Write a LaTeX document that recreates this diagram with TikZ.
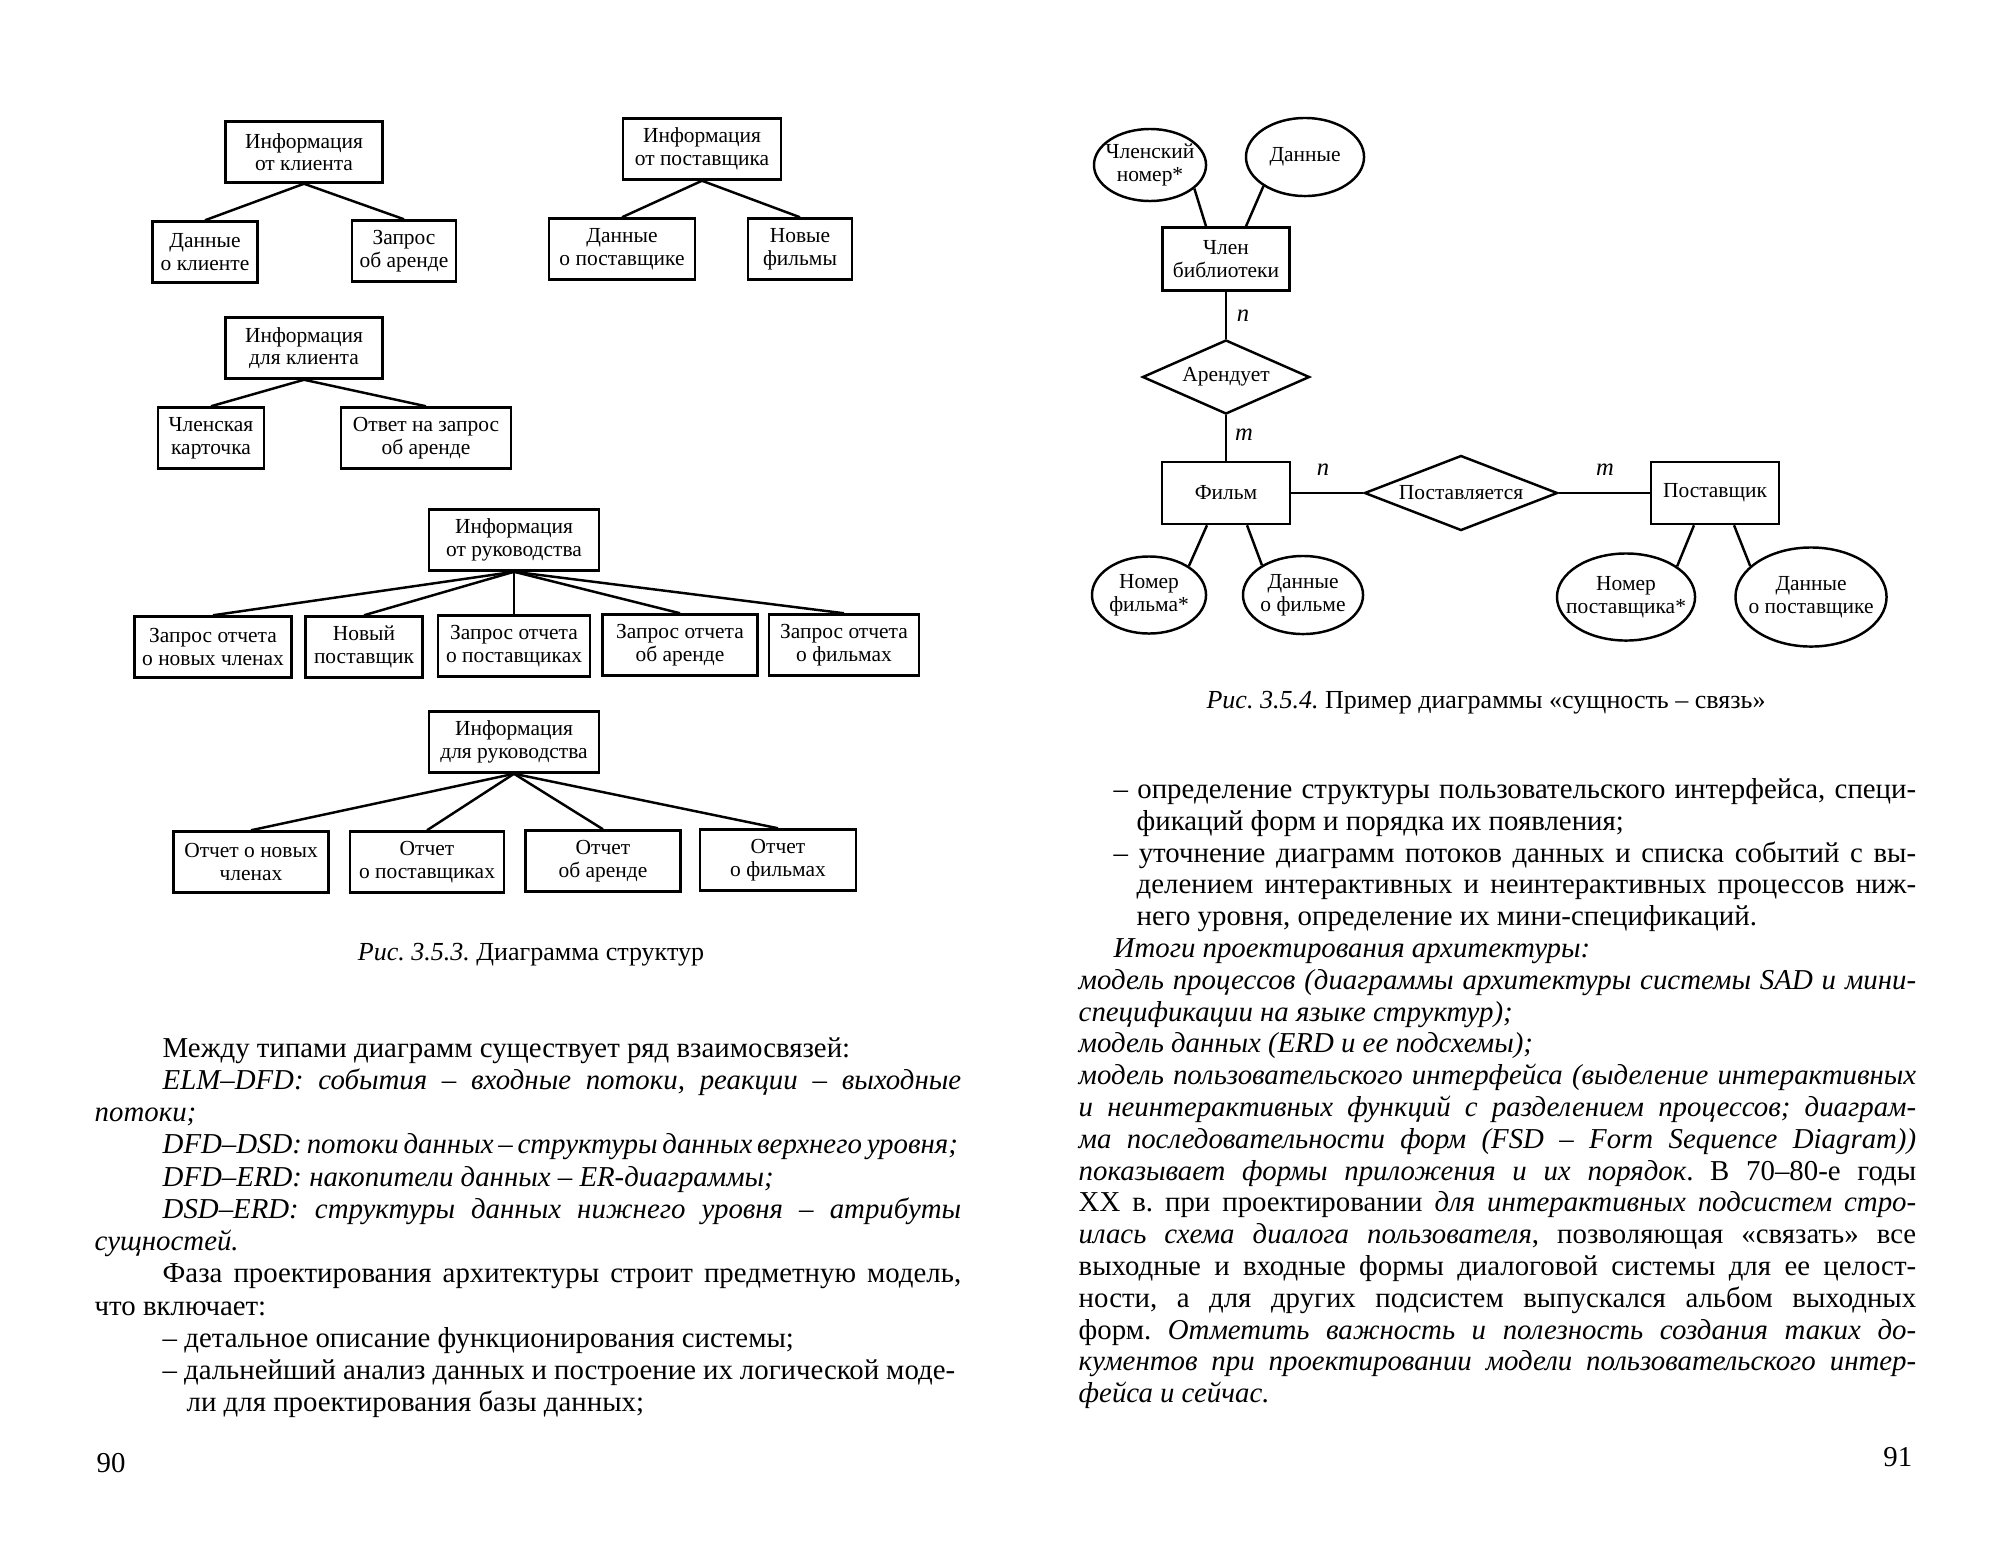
\documentclass[tikz,border=0pt]{standalone}
\usepackage{fontspec}
\setmainfont{Liberation Serif}
\usetikzlibrary{shapes.geometric}
\frenchspacing
\newcommand{\jl}[2]{\makebox[#1][s]{#2}}
\newcommand{\bodyfnt}{\fontsize{8.2}{9}\selectfont}
\newcommand{\lblfnt}{\fontsize{6.1}{6.4}\selectfont}

\begin{document}
\begin{tikzpicture}[x=0.01cm,y=-0.01cm,
  blk/.style={draw,line width=0.7pt,align=center,inner sep=1pt,minimum height=0.61cm,font=\lblfnt},
  attr/.style={draw,ellipse,line width=0.7pt,align=center,inner xsep=-0.2cm,inner ysep=0pt,font=\lblfnt},
  rel/.style={draw,diamond,line width=0.7pt,inner sep=0pt,shape aspect=2.6,font=\lblfnt},
  mult/.style={font=\fontsize{7}{7}\selectfont\itshape,inner sep=0pt},
  lnk/.style={line width=0.7pt},
  txt/.style={anchor=base west,inner sep=0pt,font=\bodyfnt},
  cpt/.style={font=\fontsize{7.4}{8}\selectfont,inner sep=0pt}]
\useasboundingbox[fill=white] (0,0) rectangle (2013,1548);

\node[blk,minimum width=1.57cm] (infC) at (304,152) {Информация\\от клиента};
\node[blk,minimum width=1.05cm] (datC) at (205,252) {Данные\\о клиенте};
\node[blk,minimum width=1.04cm] (reqR) at (404,251) {Запрос\\об аренде};
\draw[lnk] (infC.south) -- (datC.north);
\draw[lnk] (infC.south) -- (reqR.north);

\node[blk,minimum width=1.58cm] (infS) at (702,149) {Информация\\от поставщика};
\node[blk,minimum width=1.46cm] (datS) at (622,249) {Данные\\о поставщике};
\node[blk,minimum width=1.04cm] (newF) at (800,249) {Новые\\фильмы};
\draw[lnk] (infS.south) -- (datS.north);
\draw[lnk] (infS.south) -- (newF.north);

\node[blk,minimum width=1.57cm] (forC) at (304,348) {Информация\\для клиента};
\node[blk,minimum width=1.06cm] (card) at (211,438) {Членская\\карточка};
\node[blk,minimum width=1.70cm] (ans) at (426,438) {Ответ на запрос\\об аренде};
\draw[lnk] (forC.south) -- (card.north);
\draw[lnk] (forC.south) -- (ans.north);

\node[blk,minimum width=1.70cm] (fromM) at (514,540) {Информация\\от руководства};
\node[blk,minimum width=1.57cm] (rqN) at (213,647) {Запрос отчета\\о новых членах};
\node[blk,minimum width=1.17cm] (newS) at (364,647) {Новый\\поставщик};
\node[blk,minimum width=1.52cm] (rqS) at (514,646) {Запрос отчета\\о поставщиках};
\node[blk,minimum width=1.55cm] (rqR) at (680,645) {Запрос отчета\\об аренде};
\node[blk,minimum width=1.50cm] (rqF) at (844,645) {Запрос отчета\\о фильмах};
\draw[lnk] (fromM.south) -- (rqN.north);
\draw[lnk] (fromM.south) -- (newS.north);
\draw[lnk] (fromM.south) -- (rqS.north);
\draw[lnk] (fromM.south) -- (rqR.north);
\draw[lnk] (fromM.south) -- (rqF.north);

\node[blk,minimum width=1.70cm] (forM) at (514,742) {Информация\\для руководства};
\node[blk,minimum width=1.55cm] (rpN) at (251,862) {Отчет о новых\\членах};
\node[blk,minimum width=1.54cm] (rpS) at (427,862) {Отчет\\о поставщиках};
\node[blk,minimum width=1.55cm] (rpR) at (603,861) {Отчет\\об аренде};
\node[blk,minimum width=1.56cm] (rpF) at (778,860) {Отчет\\о фильмах};
\draw[lnk] (forM.south) -- (rpN.north);
\draw[lnk] (forM.south) -- (rpS.north);
\draw[lnk] (forM.south) -- (rpR.north);
\draw[lnk] (forM.south) -- (rpF.north);

\node[cpt] (cap1) at (531,955) {\textit{Рис. 3.5.3.} Диаграмма структур};

\node[attr,minimum width=1.12cm,minimum height=0.72cm] (memNo) at (1150,165) {Членский\\номер*};
\node[attr,minimum width=1.18cm,minimum height=0.78cm] (memData) at (1305,157) {Данные};
\node[blk,minimum width=1.27cm,minimum height=0.63cm] (member) at (1226,259) {Член\\библиотеки};
\draw[lnk] (memNo.-28) -- ([xshift=-0.2cm]member.north);
\draw[lnk] (memData.-145) -- ([xshift=0.2cm]member.north);
\node[rel,minimum width=1.67cm,minimum height=0.74cm] (rents) at (1226,377) {Арендует};
\node[blk,minimum width=1.28cm,minimum height=0.62cm] (film) at (1226,493) {Фильм};
\draw[lnk] (member) -- (rents);
\draw[lnk] (rents) -- (film);
\node[mult] (n1) at (1243,316) {n};
\node[mult] (m1) at (1244,435) {m};
\node[rel,minimum width=1.93cm,minimum height=0.75cm] (supply) at (1461,493) {Поставляется};
\node[blk,minimum width=1.28cm,minimum height=0.62cm] (supplier) at (1715,493) {Поставщик};
\draw[lnk] (film) -- (supply);
\draw[lnk] (supply) -- (supplier);
\node[mult] (n2) at (1323,470) {n};
\node[mult] (m2) at (1605,470) {m};
\node[attr,minimum width=1.14cm,minimum height=0.77cm] (filmNo) at (1149,595) {Номер\\фильма*};
\node[attr,minimum width=1.20cm,minimum height=0.78cm] (filmData) at (1303,595) {Данные\\о фильме};
\node[attr,minimum width=1.38cm,minimum height=0.87cm] (supNo) at (1626,597) {Номер\\поставщика*};
\node[attr,minimum width=1.51cm,minimum height=0.99cm] (supData) at (1811,597) {Данные\\о поставщике};
\draw[lnk] ([xshift=-0.19cm]film.south) -- (filmNo.36);
\draw[lnk] ([xshift=0.21cm]film.south) -- (filmData.144);
\draw[lnk] ([xshift=-0.21cm]supplier.south) -- (supNo.31);
\draw[lnk] ([xshift=0.19cm]supplier.south) -- (supData.153);

\node[cpt] (cap2) at (1486,703) {\textit{Рис. 3.5.4.} Пример диаграммы «сущность – связь»};

\node[txt] (l1) at (162,1057) {Между типами диаграмм существует ряд взаимосвязей:};
\node[txt] (l2) at (162,1089) {\itshape\jl{7.98cm}{ELM–DFD: события – входные потоки, реакции – выходные}};
\node[txt] (l3) at (94,1121) {\itshape потоки;};
\node[txt] (l4) at (162,1153) {\itshape\jl{7.92cm}{DFD–DSD: потоки данных – структуры данных верхнего уровня;}};
\node[txt] (l5) at (162,1186) {\itshape DFD–ERD: накопители данных – ER-диаграммы;};
\node[txt] (l6) at (162,1218) {\itshape\jl{7.98cm}{DSD–ERD: структуры данных нижнего уровня – атрибуты}};
\node[txt] (l7) at (94,1250) {\itshape сущностей.};
\node[txt] (l8) at (162,1282) {\jl{7.98cm}{Фаза проектирования архитектуры строит предметную модель,}};
\node[txt] (l9) at (94,1315) {что включает:};
\node[txt] (l10) at (162,1347) {– детальное описание функционирования системы;};
\node[txt] (l11) at (162,1379) {\jl{7.92cm}{– дальнейший анализ данных и построение их логической моде-}};
\node[txt] (l12) at (186,1411) {ли для проектирования базы данных;};
\node[txt] (pg90) at (96,1472) {90};

\node[txt] (r1) at (1113,798) {\jl{8.02cm}{– определение структуры пользовательского интерфейса, специ-}};
\node[txt] (r2) at (1136,830) {фикаций форм и порядка их появления;};
\node[txt] (r3) at (1113,862) {\jl{8.02cm}{– уточнение диаграмм потоков данных и списка событий с вы-}};
\node[txt] (r4) at (1136,893) {\jl{7.79cm}{делением интерактивных и неинтерактивных процессов ниж-}};
\node[txt] (r5) at (1136,925) {него уровня, определение их мини-спецификаций.};
\node[txt] (r6) at (1113,957) {\itshape Итоги проектирования архитектуры:};
\node[txt] (r7) at (1078,989) {\itshape\jl{8.37cm}{модель процессов (диаграммы архитектуры системы SAD и мини-}};
\node[txt] (r8) at (1078,1021) {\itshape спецификации на языке структур);};
\node[txt] (r9) at (1078,1052) {\itshape модель данных (ERD и ее подсхемы);};
\node[txt] (r10) at (1078,1084) {\itshape\jl{8.37cm}{модель пользовательского интерфейса (выделение интерактивных}};
\node[txt] (r11) at (1078,1116) {\itshape\jl{8.37cm}{и неинтерактивных функций с разделением процессов; диаграм-}};
\node[txt] (r12) at (1078,1148) {\itshape\jl{8.37cm}{ма последовательности форм (FSD – Form Sequence Diagram))}};
\node[txt] (r13) at (1078,1180) {\jl{8.37cm}{\textit{показывает формы приложения и их порядок}. В 70–80-е годы}};
\node[txt] (r14) at (1078,1211) {\jl{8.37cm}{XX в. при проектировании \textit{для интерактивных подсистем стро-}}};
\node[txt] (r15) at (1078,1243) {\jl{8.37cm}{\textit{илась схема диалога пользователя}, позволяющая «связать» все}};
\node[txt] (r16) at (1078,1275) {\jl{8.37cm}{выходные и входные формы диалоговой системы для ее целост-}};
\node[txt] (r17) at (1078,1307) {\jl{8.37cm}{ности, а для других подсистем выпускался альбом выходных}};
\node[txt] (r18) at (1078,1339) {\jl{8.37cm}{форм. \textit{Отметить важность и полезность создания таких до-}}};
\node[txt] (r19) at (1078,1370) {\itshape\jl{8.37cm}{кументов при проектировании модели пользовательского интер-}};
\node[txt] (r20) at (1078,1402) {\itshape фейса и сейчас.};
\node[txt,anchor=base east] (pg91) at (1913,1466) {91};
\end{tikzpicture}
\end{document}
